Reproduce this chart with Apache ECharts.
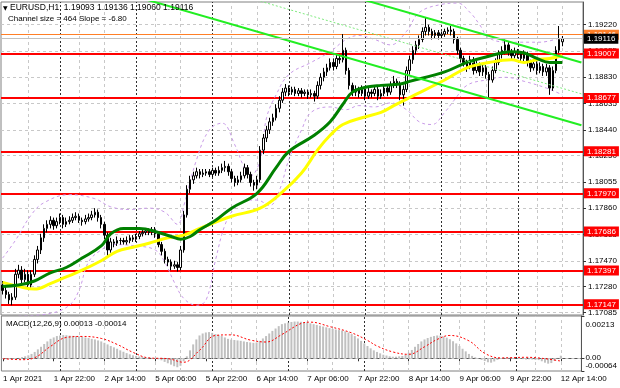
<!DOCTYPE html>
<html><head><meta charset="utf-8">
<script src="https://cdn.jsdelivr.net/npm/echarts@6.0.0/dist/echarts.min.js"></script>
<style>html,body{margin:0;padding:0;background:#fff;}#chart{width:620px;height:388px;}</style>
</head><body><div id="chart"></div>
<script>
// ---------- data ----------
const tickLabels = ["1 Apr 2021","1 Apr 22:00","2 Apr 14:00","5 Apr 06:00","5 Apr 22:00","6 Apr 14:00","7 Apr 06:00","7 Apr 22:00","8 Apr 14:00","9 Apr 06:00","9 Apr 22:00","12 Apr 14:00"];
const priceTicks = [1.19220,1.19025,1.18830,1.18635,1.18440,1.18250,1.18055,1.17860,1.17665,1.17470,1.17280,1.17085];
const levelLines = [1.19007,1.18677,1.18281,1.17970,1.17686,1.17397,1.17147];
const askPrice = 1.19146;
const bidPrice = 1.19116;
const daySeparators = [18,42,66,90,114,138,162];
const gridBars = [8,24,32,48,56,72,80,96,104,120,128,144,152,168,176];
const macdTicksUpper = [0.00213,0];
const macdTicksLower = [-0.00064];

const opens = [
1.1729,1.1725,1.1722,1.1718,1.1720,1.1737,1.1740,1.1733,1.1737,1.1729,
1.1737,1.1748,1.1755,1.1764,1.1771,1.1774,1.1777,1.1773,1.1776,1.1779,
1.1774,1.1776,1.1777,1.1779,1.1780,1.1777,1.1776,1.1778,1.1779,1.1781,
1.1783,1.1779,1.1774,1.1766,1.1755,1.1761,1.1760,1.1762,1.1762,1.1761,
1.1762,1.1764,1.1763,1.1765,1.1767,1.1768,1.1769,1.1768,1.1770,1.1767,
1.1759,1.1754,1.1748,1.1746,1.1743,1.1744,1.1742,1.1755,1.1781,1.1800,
1.1807,1.1810,1.1813,1.1811,1.1812,1.1813,1.1811,1.1814,1.1812,1.1814,
1.1816,1.1817,1.1813,1.1808,1.1805,1.1807,1.1810,1.1816,1.1811,1.1805,
1.1803,1.1807,1.1829,1.1838,1.1844,1.1850,1.1853,1.1860,1.1866,1.1872,
1.1875,1.1872,1.1874,1.1871,1.1873,1.1871,1.1872,1.1870,1.1871,1.1869,
1.1877,1.1883,1.1887,1.1890,1.1894,1.1891,1.1897,1.1896,1.1903,1.1888,
1.1877,1.1872,1.1874,1.1871,1.1874,1.1869,1.1872,1.1871,1.1874,1.1869,
1.1871,1.1875,1.1872,1.1877,1.1880,1.1878,1.1870,1.1874,1.1888,1.1896,
1.1903,1.1907,1.1911,1.1917,1.1920,1.1917,1.1914,1.1916,1.1914,1.1915,
1.1917,1.1918,1.1917,1.1911,1.1903,1.1897,1.1894,1.1891,1.1896,1.1888,
1.1892,1.1887,1.1890,1.1885,1.1881,1.1888,1.1894,1.1900,1.1903,1.1907,
1.1902,1.1899,1.1902,1.1900,1.1897,1.1900,1.1894,1.1890,1.1893,1.1888,
1.1891,1.1887,1.1890,1.1875,1.1888,1.1903,1.19093];
const closes = [
1.1725,1.1722,1.1718,1.1720,1.1737,1.1740,1.1733,1.1737,1.1729,1.1737,
1.1748,1.1755,1.1764,1.1771,1.1774,1.1777,1.1773,1.1776,1.1779,1.1774,
1.1776,1.1777,1.1779,1.1780,1.1777,1.1776,1.1778,1.1779,1.1781,1.1783,
1.1779,1.1774,1.1766,1.1755,1.1761,1.1760,1.1762,1.1762,1.1761,1.1762,
1.1764,1.1763,1.1765,1.1767,1.1768,1.1769,1.1768,1.1770,1.1767,1.1759,
1.1754,1.1748,1.1746,1.1743,1.1744,1.1742,1.1755,1.1781,1.1800,1.1807,
1.1810,1.1813,1.1811,1.1812,1.1813,1.1811,1.1814,1.1812,1.1814,1.1816,
1.1817,1.1813,1.1808,1.1805,1.1807,1.1810,1.1816,1.1811,1.1805,1.1803,
1.1807,1.1829,1.1838,1.1844,1.1850,1.1853,1.1860,1.1866,1.1872,1.1875,
1.1872,1.1874,1.1871,1.1873,1.1871,1.1872,1.1870,1.1871,1.1869,1.1877,
1.1883,1.1887,1.1890,1.1894,1.1891,1.1897,1.1896,1.1903,1.1888,1.1877,
1.1872,1.1874,1.1871,1.1874,1.1869,1.1872,1.1871,1.1874,1.1869,1.1871,
1.1875,1.1872,1.1877,1.1880,1.1878,1.1870,1.1874,1.1888,1.1896,1.1903,
1.1907,1.1911,1.1917,1.1920,1.1917,1.1914,1.1916,1.1914,1.1915,1.1917,
1.1918,1.1917,1.1911,1.1903,1.1897,1.1894,1.1891,1.1896,1.1888,1.1892,
1.1887,1.1890,1.1885,1.1881,1.1888,1.1894,1.1900,1.1903,1.1907,1.1902,
1.1899,1.1902,1.1900,1.1897,1.1900,1.1894,1.1890,1.1893,1.1888,1.1891,
1.1887,1.1890,1.1875,1.1888,1.1903,1.1911,1.19116];
const lows = [
1.1722,1.1719,1.1715,1.1714,1.1718,1.1734,1.1730,1.1731,1.1726,1.1727,
1.1735,1.1745,1.1752,1.1761,1.1768,1.1771,1.1770,1.1771,1.1774,1.1771,
1.1772,1.1774,1.1775,1.1777,1.1775,1.1773,1.1774,1.1776,1.1777,1.1779,
1.1776,1.1771,1.1763,1.1750,1.1753,1.1757,1.1758,1.1759,1.1759,1.1759,
1.1760,1.1761,1.1761,1.1763,1.1765,1.1766,1.1766,1.1766,1.1764,1.1757,
1.1751,1.1745,1.1743,1.1740,1.1741,1.1739,1.1740,1.1753,1.1779,1.1797,
1.1804,1.1808,1.1808,1.1809,1.1810,1.1809,1.1809,1.1810,1.1810,1.1812,
1.1813,1.1810,1.1805,1.1802,1.1803,1.1805,1.1808,1.1808,1.1802,1.1799,
1.1800,1.1805,1.1826,1.1835,1.1841,1.1847,1.1851,1.1857,1.1864,1.1869,
1.1869,1.1870,1.1869,1.1869,1.1868,1.1869,1.1867,1.1868,1.1865,1.1867,
1.1874,1.1880,1.1884,1.1888,1.1888,1.1889,1.1893,1.1894,1.1885,1.1874,
1.1869,1.1869,1.1868,1.1869,1.1866,1.1867,1.1868,1.1869,1.1866,1.1867,
1.1869,1.1869,1.1870,1.1875,1.1875,1.1866,1.1862,1.1872,1.1885,1.1893,
1.1900,1.1904,1.1909,1.1914,1.1914,1.1911,1.1912,1.1911,1.1912,1.1913,
1.1915,1.1914,1.1908,1.1900,1.1894,1.1891,1.1887,1.1889,1.1885,1.1886,
1.1884,1.1884,1.1882,1.1868,1.1879,1.1886,1.1892,1.1897,1.1900,1.1899,
1.1896,1.1897,1.1897,1.1894,1.1895,1.1891,1.1887,1.1888,1.1885,1.1886,
1.1884,1.1884,1.1870,1.1873,1.1886,1.1901,1.19060];
const highs = [
1.1732,1.1728,1.1724,1.1723,1.1741,1.1744,1.1743,1.1741,1.1740,1.1740,
1.1751,1.1758,1.1767,1.1774,1.1777,1.1780,1.1779,1.1779,1.1782,1.1781,
1.1779,1.1780,1.1782,1.1783,1.1782,1.1779,1.1781,1.1782,1.1784,1.1786,
1.1785,1.1781,1.1776,1.1768,1.1764,1.1763,1.1765,1.1764,1.1764,1.1765,
1.1766,1.1766,1.1767,1.1769,1.1770,1.1771,1.1771,1.1772,1.1772,1.1769,
1.1761,1.1756,1.1750,1.1748,1.1747,1.1746,1.1758,1.1784,1.1803,1.1810,
1.1813,1.1816,1.1815,1.1815,1.1815,1.1815,1.1816,1.1816,1.1817,1.1819,
1.1821,1.1819,1.1815,1.1810,1.1810,1.1813,1.1819,1.1818,1.1813,1.1807,
1.1810,1.1832,1.1841,1.1847,1.1853,1.1856,1.1863,1.1869,1.1875,1.1878,
1.1877,1.1876,1.1876,1.1875,1.1875,1.1874,1.1874,1.1874,1.1873,1.1880,
1.1886,1.1890,1.1893,1.1897,1.1897,1.1900,1.1900,1.1915,1.1905,1.1890,
1.1879,1.1877,1.1876,1.1877,1.1876,1.1875,1.1874,1.1877,1.1876,1.1874,
1.1878,1.1877,1.1880,1.1884,1.1882,1.1880,1.1877,1.1891,1.1899,1.1906,
1.1910,1.1914,1.1920,1.1927,1.1922,1.1919,1.1918,1.1918,1.1917,1.1919,
1.1920,1.1921,1.1919,1.1913,1.1905,1.1899,1.1896,1.1899,1.1898,1.1895,
1.1894,1.1893,1.1892,1.1887,1.1891,1.1897,1.1903,1.1906,1.1911,1.1909,
1.1904,1.1905,1.1904,1.1902,1.1903,1.1902,1.1896,1.1896,1.1895,1.1894,
1.1893,1.1893,1.1892,1.1891,1.1906,1.1921,1.19136];

const greenMA = [[0,1.1728],[5,1.1729],[10,1.1732],[15,1.1738],[20,1.1742],[25,1.1749],[31,1.1758],[34,1.1767],[38,1.1771],[43,1.1771],[49,1.1768],[53,1.1765],[56,1.1763],[59,1.1765],[62,1.1770],[67,1.1777],[72,1.1786],[80,1.1797],[86,1.1816],[90,1.1828],[98,1.1840],[103,1.1850],[107,1.1863],[110,1.1872],[115,1.1876],[119,1.1877],[125,1.1878],[128,1.1880],[139,1.1887],[146,1.1894],[152,1.1898],[160,1.1902],[164,1.1901],[168,1.1897],[172,1.1894],[176,1.1894]];
const yellowMA = [[0,1.1731],[5,1.1728],[10,1.1726],[15,1.1730],[20,1.1735],[25,1.1740],[31,1.1747],[36,1.1754],[41,1.1757],[46,1.1760],[52,1.1764],[57,1.1766],[62,1.1771],[72,1.1780],[81,1.1786],[88,1.1798],[94,1.1812],[99,1.1829],[103,1.1840],[107,1.1848],[113,1.1853],[119,1.1857],[123,1.1862],[128,1.1868],[139,1.1881],[146,1.1890],[153,1.1894],[160,1.1896],[164,1.1894],[168,1.1896],[172,1.1897],[176,1.1899]];
const upperBand = [[0,1.1749],[4,1.1762],[9,1.1781],[13,1.1790],[21,1.1796],[29,1.1793],[34,1.1787],[40,1.1785],[46,1.1786],[51,1.1783],[55,1.1774],[57,1.1788],[61,1.1822],[65,1.1844],[69,1.1849],[73,1.1833],[76,1.1816],[78,1.1810],[81,1.1822],[83,1.1853],[86,1.1870],[90,1.1885],[97,1.1894],[103,1.1902],[108,1.1911],[112,1.1914],[117,1.1911],[122,1.1907],[127,1.1917],[131,1.1931],[138,1.1937],[143,1.1938],[147,1.1931],[150,1.1922],[153,1.1912],[160,1.1909],[169,1.1909],[176,1.1913]];
const lowerBand = [[5,1.1706],[15,1.1708],[21,1.1714],[24,1.1725],[27,1.1746],[31,1.1755],[35,1.1759],[42,1.1758],[48,1.1755],[51,1.1746],[54,1.1731],[57,1.1719],[61,1.1714],[64,1.1718],[67,1.1748],[70,1.1774],[73,1.1786],[77,1.1792],[80,1.1792],[84,1.1788],[87,1.1799],[90,1.1822],[94,1.1844],[97,1.1857],[103,1.1861],[108,1.1859],[112,1.1862],[117,1.1861],[122,1.1864],[127,1.1859],[131,1.1850],[135,1.1848],[139,1.1857],[142,1.1866],[146,1.1877],[152,1.1881],[158,1.1883],[164,1.1880],[171,1.1875],[176,1.1870]];
const channelUpper = [[40,1.19905],[182,1.18939]];
const channelMiddle = [[40,1.19673],[182,1.18707]];
const channelLower = [[40,1.19441],[182,1.18475]];

const macdMain = [
-0.00002,-0.00003,-0.00004,-0.00003,-0.00001,0.00002,
0.00006,0.00010,0.00015,0.00022,
0.00032,0.00045,0.00058,0.00072,0.00085,0.00098,
0.00105,0.00112,0.00115,
0.00117,0.00116,0.00114,0.00113,0.00112,
0.00110,0.00108,0.00105,0.00102,0.00098,
0.00095,0.00090,0.00085,0.00078,0.00070,
0.00062,0.00055,0.00048,0.00040,0.00033,0.00026,0.00020,0.00015,
0.00012,0.00009,0.00007,0.00005,0.00004,0.00002,0.00000,
-0.00005,-0.00010,-0.00018,-0.00025,-0.00032,-0.00040,-0.00045,-0.00038,
-0.00015,0.00010,0.00040,0.00070,0.00095,0.00115,
0.00125,0.00130,0.00132,0.00128,
0.00122,0.00118,0.00112,0.00105,0.00098,0.00094,
0.00092,0.00090,0.00088,0.00085,0.00082,0.00080,0.00078,0.00080,0.00088,
0.00100,0.00112,0.00125,0.00138,0.00150,0.00162,0.00172,
0.00176,0.00180,0.00183,0.00185,0.00185,0.00184,0.00182,0.00180,
0.00176,0.00172,0.00168,0.00164,0.00160,0.00156,0.00152,
0.00148,0.00145,0.00142,0.00140,0.00136,0.00130,0.00122,
0.00112,0.00100,0.00088,0.00075,0.00062,0.00050,0.00040,
0.00032,0.00025,0.00018,0.00014,0.00010,0.00008,0.00008,0.00010,0.00012,0.00018,
0.00028,0.00042,0.00058,0.00072,0.00085,
0.00095,0.00102,0.00108,0.00112,0.00115,0.00114,0.00110,0.00104,
0.00096,0.00086,0.00075,0.00062,0.00048,0.00035,0.00022,
0.00012,0.00005,-0.00002,-0.00008,-0.00014,
-0.00020,-0.00022,-0.00016,-0.00008,
-0.00002,0.00002,0.00004,0.00003,0.00002,0.00000,
-0.00002,-0.00004,-0.00006,-0.00005,-0.00006,-0.00008,-0.00009,
-0.00015,-0.00022,-0.00027,-0.00024,-0.00012,0.00002,0.00013];
const macdSignal = [[0,-0.00002],[6,-0.00007],[10,0.00003],[15,0.00060],[20,0.00105],[25,0.00110],[31,0.00100],[36,0.00070],[41,0.00030],[46,0.00002],[52,-0.00002],[57,-0.00020],[62,0.00040],[67,0.00115],[72,0.00118],[78,0.00092],[83,0.00082],[88,0.00120],[94,0.00175],[97,0.00182],[103,0.00160],[110,0.00128],[115,0.00090],[118,0.00062],[123,0.00032],[128,0.00020],[133,0.00058],[137,0.00095],[141,0.00115],[147,0.00088],[152,0.00025],[157,0.00002],[165,0.00005],[170,0.00000],[176,-0.00014]];

// ---------- chart ----------
const FONT = '"Liberation Sans", Arial, sans-serif';
const slotCount = 183;
const slots = Array.from({length: slotCount}, (_, i) => String(i));
const candleData = opens.map((o, i) => [o, closes[i], lows[i], highs[i]]);

const gridGray = {color: '#c8c8c8', width: 1, type: [3, 3]};
const dayDark = {color: '#303030', width: 1, type: [2, 2]};
function vLines(){
  return gridBars.map(b => ({xAxis: b, lineStyle: gridGray}))
    .concat(daySeparators.map(b => ({xAxis: b, lineStyle: dayDark})));
}
const noLabel = {show: false};
function priceLabel(bg){
  return {show: true, position: 'end', distance: 1, formatter: p => Number(p.value).toFixed(5),
    color: '#fff', backgroundColor: bg, padding: [1, 3, 0, 3], lineHeight: 9, fontSize: 8, fontFamily: FONT};
}
const macdMin = -0.00064, macdMax = 0.00213;

const chart = echarts.init(document.getElementById('chart'), null, {renderer: 'canvas'});
chart.setOption({
  animation: false,
  backgroundColor: '#ffffff',
  textStyle: {fontFamily: FONT},
  grid: [
    {left: 1, right: 37, top: 2, height: 313, show: true, borderColor: '#808080', borderWidth: 1},
    {left: 1, right: 37, top: 316, height: 55, show: true, borderColor: '#808080', borderWidth: 1}
  ],
  xAxis: [
    {type: 'category', gridIndex: 0, data: slots, boundaryGap: true, show: true,
     axisLine: {show: false}, axisTick: {show: false}, axisLabel: {show: false}, splitLine: {show: false}},
    {type: 'category', gridIndex: 1, data: slots, boundaryGap: true,
     axisLine: {show: true, lineStyle: {color: '#555'}},
     axisTick: {show: true, interval: 15, alignWithLabel: true, length: 3, lineStyle: {color: '#333'}},
     axisLabel: {interval: 15, align: 'left', margin: 4, fontSize: 8, color: '#000', fontFamily: FONT, hideOverlap: false,
       formatter: (v, i) => tickLabels[Math.round(i / 16)] || ''},
     splitLine: {show: false}}
  ],
  yAxis: [
    {type: 'value', gridIndex: 0, position: 'right', min: 1.17068, max: 1.19388,
     axisLine: {show: true, lineStyle: {color: '#555'}},
     axisTick: {show: true, length: 3, customValues: priceTicks, lineStyle: {color: '#333'}},
     axisLabel: {customValues: priceTicks, formatter: v => v.toFixed(5), fontSize: 8, color: '#000', margin: 5, fontFamily: FONT, hideOverlap: false},
     splitLine: {show: false}},
    {type: 'value', gridIndex: 1, position: 'right', min: macdMin, max: macdMax,
     axisLine: {show: true, lineStyle: {color: '#555'}},
     axisTick: {show: true, length: 3, customValues: macdTicksUpper, lineStyle: {color: '#333'}},
     axisLabel: {customValues: macdTicksUpper, fontSize: 8, lineHeight: 9, color: '#000', margin: 4, fontFamily: FONT,
       hideOverlap: false,
       formatter: v => v > 0.002 ? '{top|' + v.toFixed(5) + '}' : '{mid|0.00}',
       rich: {top: {fontSize: 8, lineHeight: 9, fontFamily: FONT, color: '#000', padding: [18, 0, 0, 0]},
              mid: {fontSize: 8, lineHeight: 9, fontFamily: FONT, color: '#000'}}},
     splitLine: {show: false}},
    {type: 'value', gridIndex: 1, position: 'right', min: macdMin, max: macdMax,
     axisLine: {show: false},
     axisTick: {show: true, length: 3, customValues: macdTicksLower, lineStyle: {color: '#333'}},
     axisLabel: {customValues: macdTicksLower, fontSize: 8, lineHeight: 9, color: '#000', margin: 4, fontFamily: FONT,
       hideOverlap: false,
       formatter: v => '{bot|' + v.toFixed(5) + '}',
       rich: {bot: {fontSize: 8, lineHeight: 9, fontFamily: FONT, color: '#000', padding: [0, 0, 10, 0]}}},
     splitLine: {show: false}}
  ],
  graphic: [
    {type: 'text', x: 3, y: 8, z: 100, style: {text: '▼', font: '6px "DejaVu Sans"', fill: '#000', verticalAlign: 'middle'}},
    {type: 'text', x: 10, y: 8, z: 100, style: {text: 'EURUSD,H1  1.19093 1.19136 1.19060 1.19116', font: '8.5px ' + FONT, fill: '#000', verticalAlign: 'middle'}},
    {type: 'text', x: 8, y: 19, z: 100, style: {text: 'Channel size = 464 Slope = -6.80', font: '8px ' + FONT, fill: '#000', verticalAlign: 'middle'}},
    {type: 'text', x: 6, y: 324, z: 100, style: {text: 'MACD(12,26,9) 0.00013 -0.00014', font: '8px ' + FONT, fill: '#000', verticalAlign: 'middle'}}
  ],
  series: [
    {name: 'gridMain', type: 'line', xAxisIndex: 0, yAxisIndex: 0, data: [], z: 1, silent: true,
     markLine: {z: 1, precision: 6, silent: true, symbol: ['none', 'none'], label: noLabel, animation: false,
       data: priceTicks.map(v => ({yAxis: v, lineStyle: gridGray})).concat(vLines())}},
    {name: 'levels', type: 'line', xAxisIndex: 0, yAxisIndex: 0, data: [], z: 2, silent: true,
     markLine: {z: 2, precision: 6, silent: true, symbol: ['none', 'none'], animation: false,
       lineStyle: {color: '#ff0000', width: 2, type: 'solid'}, label: priceLabel('#ff0000'),
       data: levelLines.map(v => ({yAxis: v}))}},
    {name: 'ask', type: 'line', xAxisIndex: 0, yAxisIndex: 0, data: [], z: 2, silent: true,
     markLine: {z: 2, precision: 6, silent: true, symbol: ['none', 'none'], animation: false,
       lineStyle: {color: '#ff7f27', width: 1, type: 'solid'}, label: priceLabel('#ff7f27'),
       data: [{yAxis: askPrice}]}},
    {name: 'upperBand', type: 'line', xAxisIndex: 0, yAxisIndex: 0, data: upperBand, z: 3, smooth: 0.4, symbol: 'none', silent: true,
     lineStyle: {color: '#c99be8', width: 1, type: [3, 3]}},
    {name: 'lowerBand', type: 'line', xAxisIndex: 0, yAxisIndex: 0, data: lowerBand, z: 3, smooth: 0.4, symbol: 'none', silent: true,
     lineStyle: {color: '#c99be8', width: 1, type: [3, 3]}},
    {name: 'EURUSD', type: 'candlestick', xAxisIndex: 0, yAxisIndex: 0, data: candleData, z: 4, barWidth: 2, silent: true,
     itemStyle: {color: '#ffffff', color0: '#000000', borderColor: '#000000', borderColor0: '#000000', borderWidth: 1}},
    {name: 'yellowMA', type: 'line', xAxisIndex: 0, yAxisIndex: 0, data: yellowMA, z: 5, smooth: 0.4, symbol: 'none', silent: true,
     lineStyle: {color: '#ffff00', width: 3}},
    {name: 'greenMA', type: 'line', xAxisIndex: 0, yAxisIndex: 0, data: greenMA, z: 5, smooth: 0.4, symbol: 'none', silent: true,
     lineStyle: {color: '#008000', width: 3}},
    {name: 'channelUpper', type: 'line', xAxisIndex: 0, yAxisIndex: 0, data: channelUpper, z: 6, symbol: 'none', silent: true,
     lineStyle: {color: '#22ee22', width: 2}},
    {name: 'channelMiddle', type: 'line', xAxisIndex: 0, yAxisIndex: 0, data: channelMiddle, z: 6, symbol: 'none', silent: true,
     lineStyle: {color: '#7fea7f', width: 1, type: [2, 2]}},
    {name: 'channelLower', type: 'line', xAxisIndex: 0, yAxisIndex: 0, data: channelLower, z: 6, symbol: 'none', silent: true,
     lineStyle: {color: '#22ee22', width: 2}},
    {name: 'bid', type: 'line', xAxisIndex: 0, yAxisIndex: 0, data: [], z: 7, silent: true,
     markLine: {z: 7, precision: 6, silent: true, symbol: ['none', 'none'], animation: false,
       lineStyle: {color: '#c0c0c0', width: 1, type: 'solid'}, label: priceLabel('#000000'),
       data: [{yAxis: bidPrice}]}},
    {name: 'gridMacd', type: 'line', xAxisIndex: 1, yAxisIndex: 1, data: [], z: 1, silent: true,
     markLine: {z: 1, precision: 6, silent: true, symbol: ['none', 'none'], label: noLabel, animation: false,
       data: [{yAxis: 0, lineStyle: gridGray}].concat(vLines())}},
    {name: 'MACD', type: 'bar', xAxisIndex: 1, yAxisIndex: 1, data: macdMain, z: 2, barWidth: 2, silent: true,
     itemStyle: {color: '#c0c0c0'}},
    {name: 'Signal', type: 'line', xAxisIndex: 1, yAxisIndex: 1, data: macdSignal, z: 3, smooth: 0.4, symbol: 'none', silent: true,
     lineStyle: {color: '#ff0000', width: 1, type: [2, 2]}}
  ]
});
</script>
</body></html>
